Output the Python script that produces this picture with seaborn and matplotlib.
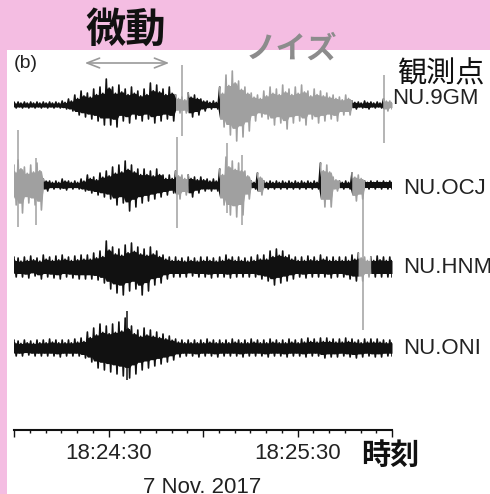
import numpy as np
import pandas as pd
import matplotlib
matplotlib.use('Agg')
import matplotlib.pyplot as plt
from matplotlib.patches import Rectangle
import seaborn as sns

# ---- data ----
# envelope sampled every 2 s from 18:24:00 (upper / lower amplitude, px units)
times = np.arange(0, 121, 2)
stations = ['NU.9GM', 'NU.OCJ', 'NU.HNM', 'NU.ONI']

gm_up = [3, 3, 3, 3, 3, 3, 3, 3, 4,
         6, 10, 14, 12, 16, 18, 26, 18, 20, 16, 18, 14, 16, 22, 20, 16, 18,
         10, 8, 12, 10, 6, 4, 4,
         18, 30, 34, 24, 18, 12, 10, 14, 18, 16, 20, 16, 18, 20, 14, 16, 14, 12, 10, 8, 10,
         4, 3, 4, 3, 3, 6, 4]
gm_lo = [3, 3, 3, 3, 3, 3, 3, 3, 4,
         6, 10, 12, 14, 16, 20, 20, 22, 16, 18, 14, 16, 14, 18, 16, 14, 16,
         8, 8, 12, 10, 6, 4, 4,
         22, 30, 36, 32, 26, 16, 12, 14, 20, 18, 24, 18, 16, 20, 14, 18, 16, 14, 16, 10, 10,
         4, 3, 4, 3, 3, 6, 4]

ocj_up = [20, 25, 18, 20, 22,
          6, 4, 4, 6, 4, 4, 6,
          10, 8, 12, 14, 18, 20, 24, 20, 16, 16, 14, 16, 10, 10,
          14, 10, 10, 8, 8, 6, 6,
          16, 28, 24, 22, 14, 4,
          12, 4, 4, 4, 4, 4, 4, 4, 4, 4,
          22, 20, 8, 4, 4,
          12, 10, 4, 4, 4, 4, 4]
ocj_lo = [20, 28, 18, 20, 25,
          6, 4, 4, 5, 4, 4, 6,
          8, 10, 12, 14, 20, 18, 26, 22, 18, 16, 14, 12, 10, 8,
          14, 10, 12, 8, 6, 6, 6,
          20, 30, 32, 30, 14, 4,
          10, 4, 4, 4, 4, 4, 4, 4, 4, 4,
          22, 22, 6, 4, 4,
          16, 14, 4, 4, 4, 4, 4]

hnm_up = [10, 9, 10, 11, 9, 12, 10, 11, 12, 10, 11, 12, 12, 14,
          16, 26, 20, 18, 22, 24, 20, 18, 20, 16, 12, 10,
          10, 9, 10, 9, 10, 10, 9, 10,
          12, 10, 10, 9, 10, 12, 12, 16, 18, 16, 12, 10, 10, 11, 10, 12, 10, 10, 10, 10, 12,
          14, 10, 10, 11, 10, 10]
hnm_lo = [10, 10, 11, 9, 12, 10, 11, 12, 10, 11, 12, 12, 12, 13,
          16, 22, 26, 28, 24, 22, 28, 24, 18, 16, 12, 10,
          10, 10, 9, 10, 10, 11, 10, 10,
          11, 10, 10, 10, 10, 12, 14, 18, 16, 14, 12, 10, 11, 10, 10, 10, 11, 10, 10, 12, 14,
          14, 10, 10, 10, 10, 10]

oni_up = [8, 7, 8, 7, 8, 8, 9, 8, 8, 8, 9,
          10, 16, 20, 24, 22, 24, 26, 30, 22, 18, 20, 18, 16, 14, 12,
          9, 8, 8, 8, 8, 9, 8, 8, 8, 9, 8, 8, 9, 8, 8, 9, 8, 8, 9, 8,
          9, 10, 9, 10, 10, 9, 9, 10, 9, 8, 9, 9, 9, 8, 8]
oni_lo = [8, 8, 7, 8, 8, 8, 8, 9, 8, 8, 8,
          10, 14, 20, 22, 24, 26, 28, 30, 26, 22, 20, 18, 16, 14, 12,
          9, 8, 8, 9, 8, 8, 9, 8, 8, 8, 9, 8, 8, 8, 9, 8, 8, 9, 8, 8,
          9, 8, 8, 10, 9, 9, 8, 9, 10, 9, 8, 9, 9, 8, 8]

# single large spikes (time s, up, down)
gm_spk = [(53.4, 40, 31), (117.6, 30, 38)]
ocj_spk = [(1.2, 55, 42), (7.0, 27, 40), (51.8, 48, 43), (67.5, 42, 28), (72.5, 30, 40)]
hnm_spk = [(110.7, 82, 63)]
oni_spk = [(36.0, 37, 32)]

# time windows drawn in grey (noise)
gm_gray = [(52.0, 54.6), (64.5, 107.0), (117.6, 120.0)]
ocj_gray = [(0.0, 9.9), (50.7, 54.0), (65.6, 74.6), (76.8, 79.5), (97.0, 102.2), (107.0, 110.4)]
hnm_gray = [(109.7, 112.3)]
oni_gray = []

traces = [(gm_up, gm_lo, gm_spk, gm_gray),
          (ocj_up, ocj_lo, ocj_spk, ocj_gray),
          (hnm_up, hnm_lo, hnm_spk, hnm_gray),
          (oni_up, oni_lo, oni_spk, oni_gray)]

# ---- layout ----
W, H = 490, 494
baselines = [-105, -185, -267, -348]
BLACK, GREY = '#111111', '#a0a0a0'
PINK = '#f4bde2'

sns.set_style('white')
plt.rcParams['font.family'] = ['Liberation Sans', 'Noto Sans CJK JP', 'DejaVu Sans']
CJK = ['Noto Sans CJK JP', 'DejaVu Sans']

fig = plt.figure(figsize=(W / 100, H / 100), dpi=100, facecolor=PINK)
fig.add_artist(Rectangle((7 / W, 0), 1, 1 - 50 / H, transform=fig.transFigure,
                         facecolor='white', edgecolor='none', zorder=0))
ax = fig.add_axes([14 / W, 1 - 430 / H, (392 - 14) / W, (430 - 50) / H])
ax.set_facecolor('white')


def in_gray(t, spans):
    return any(a <= t <= b for a, b in spans)


rows = []
fills = []
for k, (up, lo, spk, spans) in enumerate(traces):
    base = baselines[k]
    # wiggle between the upper and lower envelope, 4 points per sample
    pts = []
    for t, u, l in zip(times, up, lo):
        c = 'g' if in_gray(t, spans) else 'k'
        pts += [(t - 0.7, base + u, c, u, l), (t - 0.25, base - 0.6 * l, c, u, l),
                (t + 0.2, base + 0.65 * u, c, u, l), (t + 0.7, base - l, c, u, l)]
    pts = pd.DataFrame(pts, columns=['t', 'y', 'c', 'u', 'l'])
    pts['t'] = pts['t'].clip(0, 120)
    run_id = (pts['c'] != pts['c'].shift()).cumsum()
    for r, grp in pts.groupby(run_id):
        idx = list(grp.index)
        if idx[-1] + 1 < len(pts):
            idx.append(idx[-1] + 1)
        seg = pts.loc[idx].copy()
        seg['c'] = grp['c'].iloc[0]
        seg['run'] = f'{k}_{r}'
        rows.append(seg)
        fills.append((seg, base))
    for t, u, l in spk:
        ax.vlines(t, base - l, base + u, color=GREY if in_gray(t, spans) else BLACK,
                  lw=1.1, zorder=3)

lines = pd.concat(rows, ignore_index=True)
sns.lineplot(data=lines, x='t', y='y', hue='c', units='run', estimator=None, sort=False,
             palette={'k': BLACK, 'g': GREY}, legend=False, lw=1.2, ax=ax, zorder=2)
for seg, base in fills:
    col = GREY if seg['c'].iloc[0] == 'g' else BLACK
    ax.fill_between(seg['t'], base - 0.65 * seg['l'], base + 0.65 * seg['u'],
                    color=col, lw=0, zorder=2)

ax.set_xlim(0, 120)
ax.set_ylim(-430, -50)
ax.set_xlabel('')
ax.set_ylabel('')
for s in ['top', 'left', 'right']:
    ax.spines[s].set_visible(False)
ax.spines['bottom'].set_linewidth(1.5)
ax.spines['bottom'].set_color('#111111')
ax.set_yticks([])
ax.set_xticks([0, 30, 60, 90, 120])
ax.set_xticklabels(['', '18:24:30', '', '18:25:30', ''])
ax.set_xticks(np.arange(0, 121, 5), minor=True)
ax.tick_params(axis='x', which='major', bottom=True, direction='out', length=5, width=1,
               labelsize=16, pad=4, color='#111111', labelcolor='#222222')
ax.tick_params(axis='x', which='minor', bottom=True, direction='out', length=2.5, width=1,
               color='#111111')


def fx(x):
    return x / W


def fy(y):
    return 1 - y / H


fig.text(fx(202), fy(493), '7 Nov. 2017', ha='center', va='baseline',
         fontsize=16, color='#222222')
fig.text(fx(390), fy(455), '時刻', ha='center', va='center', fontsize=21,
         family=CJK, weight='bold', color='#111111')
fig.text(fx(126), fy(30), '微動', ha='center', va='center', fontsize=29,
         family=CJK, weight='bold', color='#111111')
fig.text(fx(291), fy(49), 'ノイズ', ha='center', va='center', fontsize=22,
         family=CJK, weight='bold', color='#8c8c8c')
fig.text(fx(397), fy(74), '観測点', ha='left', va='center', fontsize=21,
         family=CJK, color='#111111')
fig.text(fx(14), fy(64), '(b)', ha='left', va='center', fontsize=14, color='#222222')

label_x = [392, 403, 403, 403]
label_y = [98, 188, 267, 348]
for name, lx, ly in zip(stations, label_x, label_y):
    fig.text(fx(lx), fy(ly), name, ha='left', va='center', fontsize=16, color='#222222')

ax.annotate('', xy=(172 / W, fy(63)), xytext=(82 / W, fy(63)),
            xycoords='figure fraction', textcoords='figure fraction',
            arrowprops=dict(arrowstyle='<->,head_length=0.9,head_width=0.35',
                            color='#9a9a9a', lw=1.2))

fig.savefig('out.png', dpi=100, facecolor=PINK)
